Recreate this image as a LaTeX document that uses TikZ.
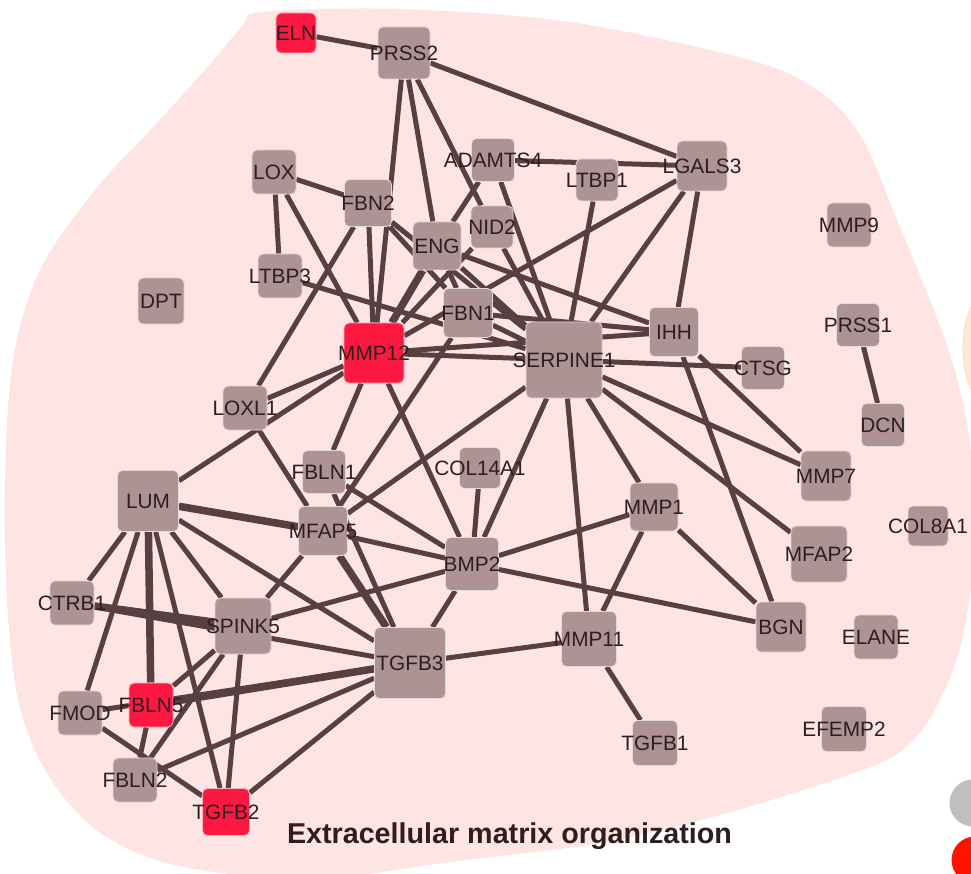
\documentclass[tikz,border=0pt]{standalone}
\usepackage{fontspec}
\setmainfont{Liberation Sans}
\definecolor{blobpink}{HTML}{FFE4E4}
\definecolor{peach}{HTML}{FDEBD5}
\definecolor{genegray}{HTML}{AD9394}
\definecolor{genered}{HTML}{FD1842}
\definecolor{linkbrown}{HTML}{574042}
\definecolor{ink}{HTML}{2E1E1F}
\pgfdeclarelayer{blobs}
\pgfdeclarelayer{edges}
\pgfsetlayers{blobs,edges,main}
\tikzset{
  gene/.style={draw=genegray!35!white, line width=0.8pt, fill=genegray, rounded corners=5pt, inner sep=0pt},
  hit/.style={gene, fill=genered, draw=genered!35!white},
  lbl/.style={text=ink, font=\fontsize{20.8}{22}\selectfont, inner sep=0pt},
  link/.style={draw=linkbrown, line width=5pt},
  heavy/.style={link, line width=7.5pt},
}
\begin{document}
\begin{tikzpicture}[x=1pt,y=-1pt]
    \useasboundingbox (0,0) rectangle (971,874);
    \clip (0,0) rectangle (971,874);

    % group backgrounds and legend
    \begin{pgfonlayer}{blobs}
        \fill[blobpink] plot[smooth cycle, tension=0.55] coordinates {
            (262,12) (400,9) (570,22) (750,60) (820,92) (862,138) (895,215)
            (945,340) (968,430) (975,540) (962,640) (935,710) (900,752)
            (840,778) (720,815) (600,843) (450,862) (330,878) (230,874)
            (150,858) (90,825) (45,770) (18,700) (7,600) (5,480) (13,360)
            (40,270) (95,190) (155,125) (212,62) (243,25)};
        \fill[peach, draw=peach!75!orange!70, line width=1pt] (1020,348) ellipse (57 and 80);
        \fill[gray!50] (973,803) circle (23.5);
        \fill[red!85!orange] (975,860) circle (23.5);
    \end{pgfonlayer}

    % genes
    \node[hit, minimum size=40pt, label={[lbl]center:ELN}] (ELN) at (296,33) {};
    \node[gene, minimum size=52pt, label={[lbl]center:PRSS2}] (PRSS2) at (404,53) {};
    \node[gene, minimum size=44pt, label={[lbl]center:LOX}] (LOX) at (274,172) {};
    \node[gene, minimum size=47pt, label={[lbl]center:FBN2}] (FBN2) at (368,203) {};
    \node[gene, minimum size=43pt, label={[lbl]center:ADAMTS4}] (ADAMTS4) at (493,160) {};
    \node[gene, minimum size=42pt, label={[lbl]center:LTBP1}] (LTBP1) at (597,180) {};
    \node[gene, minimum size=50pt, label={[lbl]center:LGALS3}] (LGALS3) at (702,166) {};
    \node[gene, minimum size=42pt, label={[lbl]center:NID2}] (NID2) at (492,227) {};
    \node[gene, minimum size=48pt, label={[lbl]center:ENG}] (ENG) at (437,246) {};
    \node[gene, minimum size=44pt, label={[lbl]center:LTBP3}] (LTBP3) at (280,276) {};
    \node[gene, minimum size=46pt, label={[lbl]center:DPT}] (DPT) at (161,301) {};
    \node[hit, minimum size=60pt, label={[lbl]center:MMP12}] (MMP12) at (374,353) {};
    \node[gene, minimum size=49pt, label={[lbl]center:FBN1}] (FBN1) at (468,313) {};
    \node[gene, minimum size=44pt, label={[lbl]center:LOXL1}] (LOXL1) at (245,408) {};
    \node[gene, minimum size=43pt, label={[lbl]center:FBLN1}] (FBLN1) at (324,472) {};
    \node[gene, minimum size=41pt, label={[lbl]center:COL14A1}] (COL14A1) at (480,468) {};
    \node[gene, minimum size=61pt, label={[lbl]center:LUM}] (LUM) at (148,501) {};
    \node[gene, minimum size=49pt, label={[lbl]center:MFAP5}] (MFAP5) at (323,531) {};
    \node[gene, minimum size=76pt, label={[lbl]center:SERPINE1}] (SERPINE1) at (564,360) {};
    \node[gene, minimum size=49pt, label={[lbl]center:IHH}] (IHH) at (674,332) {};
    \node[gene, minimum size=43pt, label={[lbl]center:CTSG}] (CTSG) at (763,368) {};
    \node[gene, minimum size=43pt, label={[lbl]center:PRSS1}] (PRSS1) at (858,325) {};
    \node[gene, minimum size=43pt, label={[lbl]center:DCN}] (DCN) at (883,425) {};
    \node[gene, minimum size=44pt, label={[lbl]center:MMP9}] (MMP9) at (849,225) {};
    \node[gene, minimum size=50pt, label={[lbl]center:MMP7}] (MMP7) at (826,476) {};
    \node[gene, minimum size=40pt, label={[lbl]center:COL8A1}] (COL8A1) at (928,526) {};
    \node[gene, minimum size=48pt, label={[lbl]center:MMP1}] (MMP1) at (654,507) {};
    \node[gene, minimum size=56pt, label={[lbl]center:MFAP2}] (MFAP2) at (819,554) {};
    \node[gene, minimum size=53pt, label={[lbl]center:BMP2}] (BMP2) at (472,564) {};
    \node[gene, minimum size=44pt, label={[lbl]center:CTRB1}] (CTRB1) at (72,603) {};
    \node[gene, minimum size=56pt, label={[lbl]center:SPINK5}] (SPINK5) at (243,626) {};
    \node[gene, minimum size=71pt, label={[lbl]center:TGFB3}] (TGFB3) at (410,663) {};
    \node[gene, minimum size=44pt, label={[lbl]center:FMOD}] (FMOD) at (80,713) {};
    \node[hit, minimum size=44pt, label={[lbl]center:FBLN5}] (FBLN5) at (151,705) {};
    \node[gene, minimum size=44pt, label={[lbl]center:FBLN2}] (FBLN2) at (135,780) {};
    \node[hit, minimum size=47pt, label={[lbl]center:TGFB2}] (TGFB2) at (226,812) {};
    \node[gene, minimum size=55pt, label={[lbl]center:MMP11}] (MMP11) at (589,639) {};
    \node[gene, minimum size=50pt, label={[lbl]center:BGN}] (BGN) at (781,627) {};
    \node[gene, minimum size=44pt, label={[lbl]center:ELANE}] (ELANE) at (876,637) {};
    \node[gene, minimum size=45pt, label={[lbl]center:TGFB1}] (TGFB1) at (655,743) {};
    \node[gene, minimum size=45pt, label={[lbl]center:EFEMP2}] (EFEMP2) at (844,729) {};

    \node[anchor=base, text=ink, font=\bfseries\fontsize{28.7}{32}\selectfont] (title) at (509.5,843) {Extracellular matrix organization};

    % interactions
    \begin{pgfonlayer}{edges}
        \foreach \a/\b in {ELN/PRSS2, PRSS2/LGALS3, PRSS2/MMP12, PRSS2/ENG, PRSS2/NID2,
            NID2/SERPINE1, ADAMTS4/SERPINE1, ADAMTS4/ENG, ADAMTS4/LGALS3,
            LGALS3/MMP12, LGALS3/SERPINE1, LGALS3/IHH, LTBP1/SERPINE1,
            LOX/FBN2, LOX/LTBP3, LOX/MMP12, FBN2/LOXL1, FBN2/MMP12, FBN2/FBN1,
            FBN2/SERPINE1, ENG/SERPINE1, ENG/IHH, ENG/FBN1, NID2/MMP12,
            LTBP3/SERPINE1, FBN1/SERPINE1, FBN1/IHH, FBN1/MFAP5, MMP12/IHH,
            MMP12/SERPINE1, MMP12/FBLN1, MMP12/BMP2, MMP12/LOXL1, LUM/MMP12,
            LOXL1/MFAP5, FBLN1/BMP2, FBLN1/TGFB3, MFAP5/SERPINE1, MFAP5/BMP2,
            MFAP5/SPINK5, LUM/CTRB1, LUM/FMOD, LUM/TGFB2, LUM/SPINK5, LUM/TGFB3,
            CTRB1/TGFB3, SPINK5/BMP2, SPINK5/FBLN5, SPINK5/FBLN2, SPINK5/TGFB2,
            FMOD/TGFB3, FBLN5/FBLN2, FMOD/TGFB2, FBLN2/TGFB3, TGFB2/TGFB3,
            TGFB3/BMP2, TGFB3/MMP11, MMP11/TGFB1, BMP2/BGN, BMP2/MMP1,
            BMP2/COL14A1, BMP2/SERPINE1, SERPINE1/MMP11, SERPINE1/MMP1,
            SERPINE1/MMP7, SERPINE1/MFAP2, SERPINE1/CTSG, IHH/MMP7, IHH/BGN,
            MMP1/BGN, MMP1/MMP11, PRSS1/DCN}
            \draw[link] (\a) -- (\b);
        \foreach \a/\b in {ENG/MMP12, MFAP5/TGFB3, LUM/MFAP5, LUM/FBLN5,
            CTRB1/SPINK5, FBLN5/TGFB3}
            \draw[heavy] (\a) -- (\b);
    \end{pgfonlayer}
\end{tikzpicture}
\end{document}
